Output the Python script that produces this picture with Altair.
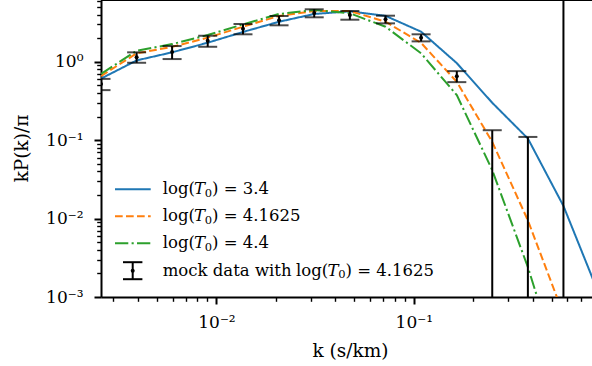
import altair as alt
import pandas as pd

# ---------------- data ----------------
k = [0.0026, 0.00394, 0.00596, 0.00903, 0.01363, 0.02076, 0.03129, 0.04743,
     0.07191, 0.1089, 0.1652, 0.2498, 0.3786, 0.5733, 0.8686]
p_34 = [0.61, 1.04, 1.32, 1.75, 2.40, 3.24, 4.07, 4.40, 3.85, 2.42, 0.96,
        0.30, 0.105, 0.0145, 0.00108]
p_41625 = [0.657, 1.28, 1.55, 2.03, 2.80, 3.84, 4.44, 4.44, 3.24, 1.74, 0.555,
           0.095, 0.0095, 0.0006, 0.00001]
p_44 = [0.70, 1.38, 1.68, 2.19, 3.00, 4.07, 4.57, 4.15, 2.80, 1.28, 0.376,
        0.0414, 0.0024, 0.000085, 0.0000001]

k_mock = k[:14]
mock = [0.52, 1.145, 1.335, 1.85, 2.635, 3.376, 4.18, 3.94, 3.48, 2.03, 0.655,
        -0.01, -0.02, -1.0]
mock_err = [0.085, 0.174, 0.252, 0.297, 0.395, 0.459, 0.49, 0.50, 0.39, 0.21,
            0.105, 0.144, 0.13, 8.0]

series_names = ["3.4", "4.1625", "4.4"]
series_colors = ["#1f77b4", "#ff7f0e", "#2ca02c"]
series_dash = [[1, 0], [7.7, 3.3], [13.3, 3.3, 2.1, 3.3]]
mock_label_value = "4.1625"

x_major = [0.01, 0.1]
x_major_labels = ["10\u207b\u00b2", "10\u207b\u00b9"]
x_minor = [0.003, 0.004, 0.005, 0.006, 0.007, 0.008, 0.009,
           0.02, 0.03, 0.04, 0.05, 0.06, 0.07, 0.08, 0.09,
           0.2, 0.3, 0.4, 0.5, 0.6, 0.7]
y_major = [0.001, 0.01, 0.1, 1.0]
y_major_labels = ["10\u207b\u00b3", "10\u207b\u00b2", "10\u207b\u00b9", "10\u2070"]
y_minor = [m * d for d in (0.001, 0.01, 0.1) for m in range(2, 10)] + [2.0, 3.0, 4.0, 5.0, 6.0]

x_domain = [0.0026, 0.80]
y_domain = [0.001, 6.135]

W, H = 491, 297
FONT = "DejaVu Serif"
LABEL_FS = 17
TITLE_FS = 18.5
LFS = 16.5

# ---------------- helpers ----------------
def label_expr(vals, labels):
    expr = "''"
    for v, l in zip(reversed(vals), reversed(labels)):
        expr = f"abs(datum.value/{v} - 1) < 1e-6 ? '{l}' : ({expr})"
    return expr

major_test = "abs(log(datum.value)/LN10 - round(log(datum.value)/LN10)) < 0.001"

def make_axis(vals_major, vals_minor, labels, title, **kw):
    return alt.Axis(
        values=sorted(vals_major + vals_minor),
        labelExpr=label_expr(vals_major, labels),
        title=title,
        grid=False,
        domainColor="black", domainWidth=2,
        tickColor="black",
        tickSize={"condition": {"test": major_test, "value": 7}, "value": 4.3},
        tickWidth={"condition": {"test": major_test, "value": 2}, "value": 1.4},
        labelFont=FONT, labelFontSize=LABEL_FS, labelColor="black",
        labelOverlap=False, labelFlush=False,
        titleFont=FONT, titleFontSize=TITLE_FS, titleFontWeight="normal", titleColor="black",
        **kw,
    )

xaxis = make_axis(x_major, x_minor, x_major_labels, "k (s/km)",
                  labelPadding=10.5, titleX=249, titleY=53, titleBaseline="middle",
                  titleAlign="center")
yaxis = make_axis(y_major, y_minor, y_major_labels, "kP(k)/\u03c0",
                  labelPadding=11, titleX=-80, titleY=148, titleBaseline="middle",
                  titleAlign="center", titleAngle=270)

xs = alt.Scale(type="log", domain=x_domain, nice=False, zero=False)
ys = alt.Scale(type="log", domain=y_domain, nice=False, zero=False)

def X(f):
    return alt.X(f, scale=xs, axis=xaxis)

def Y(f):
    return alt.Y(f, scale=ys, axis=yaxis)

# ---------------- model lines ----------------
layers = []
for i, (name, vals) in enumerate(zip(series_names, [p_34, p_41625, p_44])):
    df = pd.DataFrame({"k": k, "p": vals, "o": list(range(len(k)))})
    layers.append(
        alt.Chart(df).mark_line(color=series_colors[i], strokeWidth=2,
                                strokeDash=series_dash[i], clip=True)
        .encode(x=X("k:Q"), y=Y("p:Q"), order="o:Q")
    )

# ---------------- mock data with error bars ----------------
lo = [v - e if v - e > 0 else 1e-6 for v, e in zip(mock, mock_err)]
hi = [v + e for v, e in zip(mock, mock_err)]
mdf = pd.DataFrame({"k": k_mock, "v": mock, "lo": lo, "hi": hi})

layers.append(alt.Chart(mdf).mark_rule(color="black", strokeWidth=2, clip=True)
              .encode(x=X("k:Q"), y=Y("lo:Q"), y2="hi:Q"))
for col in ("lo", "hi"):
    layers.append(alt.Chart(mdf).mark_tick(color="black", orient="horizontal", size=19,
                                           thickness=2, clip=True)
                  .encode(x=X("k:Q"), y=Y(f"{col}:Q")))
layers.append(alt.Chart(mdf).transform_filter("datum.v > 0")
              .mark_point(color="black", filled=True, opacity=1, size=16, clip=True)
              .encode(x=X("k:Q"), y=Y("v:Q")))

# ---------------- top spine ----------------
one = pd.DataFrame({"a": [0]})
layers.append(alt.Chart(one).mark_rule(color="black", strokeWidth=2)
              .encode(x=alt.value(0), x2=alt.value(W), y=alt.value(0)))

# ---------------- legend ----------------
row_y = [189.3, 216.3, 243.3, 270.7]
sym_x0, sym_x1 = 14, 49.7
text_x = 61.7

def text_layer(txt, px, py, fs, st):
    return (alt.Chart(one).mark_text(text=txt, font=FONT, fontSize=fs, fontStyle=st,
                                     align="left", baseline="middle", color="black")
            .encode(x=alt.value(px), y=alt.value(py)))

for i, name in enumerate(series_names):
    y = row_y[i]
    layers.append(alt.Chart(one).mark_rule(color=series_colors[i], strokeWidth=2,
                                           strokeDash=series_dash[i])
                  .encode(x=alt.value(sym_x0), x2=alt.value(sym_x1), y=alt.value(y)))
    pieces = [("log(", text_x, y, LFS, "normal"),
              ("T", 93, y, LFS, "italic"),
              ("0", 103.8, y + 4.5, 11.5, "normal"),
              (") = " + name, 111, y, LFS, "normal")]
    for p in pieces:
        layers.append(text_layer(*p))

# errorbar legend entry
y4 = row_y[3]
cx = 31.7
layers.append(alt.Chart(one).mark_rule(color="black", strokeWidth=2)
              .encode(x=alt.value(cx), y=alt.value(y4 - 8.5), y2=alt.value(y4 + 8.5)))
for dy in (-8.5, 8.5):
    layers.append(alt.Chart(one).mark_rule(color="black", strokeWidth=2)
                  .encode(x=alt.value(cx - 9.7), x2=alt.value(cx + 9.7), y=alt.value(y4 + dy)))
layers.append(alt.Chart(one).mark_point(color="black", filled=True, opacity=1, size=16)
              .encode(x=alt.value(cx), y=alt.value(y4)))
pieces = [("mock data with", text_x, y4, LFS, "normal"),
          ("log(", 195, y4, LFS, "normal"),
          ("T", 226.5, y4, LFS, "italic"),
          ("0", 237.3, y4 + 4.5, 11.5, "normal"),
          (") = " + mock_label_value, 244.5, y4, LFS, "normal")]
for p in pieces:
    layers.append(text_layer(*p))

chart = (alt.layer(*layers)
         .properties(width=W, height=H, background="white",
                     autosize=alt.AutoSizeParams(type="none"),
                     padding={"left": 101, "top": 0, "right": 0, "bottom": 69})
         .configure_view(stroke=None)
         .configure_axis(labelFont=FONT, labelFontSize=LABEL_FS, titleFont=FONT,
                         titleFontSize=TITLE_FS, titleFontWeight="normal",
                         labelColor="black", titleColor="black"))

chart.save("out.html", embed_options={"renderer": "svg", "actions": False})
